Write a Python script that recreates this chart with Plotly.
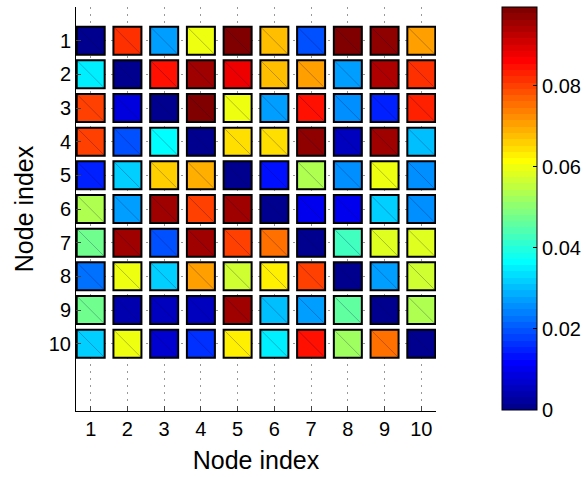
import plotly.graph_objects as go

# Node indices and tick labels
nodes = list(range(1, 11))
tick_labels = [str(n) for n in nodes]
cbar_ticks = [0, 0.02, 0.04, 0.06, 0.08]
cbar_labels = ["0", "0.02", "0.04", "0.06", "0.08"]
vmax = 0.0995

# Pairwise values between nodes (row = node on y, column = node on x)
row1 = [0.0, 0.0821, 0.0279, 0.0592, 0.0995, 0.0684, 0.0199, 0.0985, 0.0970, 0.0714]
row2 = [0.0343, 0.0, 0.0840, 0.0953, 0.0871, 0.0672, 0.0714, 0.0265, 0.0937, 0.0821]
row3 = [0.0804, 0.0092, 0.0, 0.0995, 0.0605, 0.0279, 0.0854, 0.0249, 0.0155, 0.0838]
row4 = [0.0804, 0.0191, 0.0358, 0.0, 0.0639, 0.0639, 0.0970, 0.0058, 0.0962, 0.0296]
row5 = [0.0141, 0.0323, 0.0655, 0.0689, 0.0, 0.0139, 0.0544, 0.0249, 0.0605, 0.0249]
row6 = [0.0544, 0.0265, 0.0953, 0.0804, 0.0953, 0.0, 0.0095, 0.0107, 0.0323, 0.0249]
row7 = [0.0467, 0.0953, 0.0191, 0.0953, 0.0804, 0.0761, 0.0, 0.0435, 0.0589, 0.0589]
row8 = [0.0218, 0.0605, 0.0323, 0.0704, 0.0572, 0.0627, 0.0793, 0.0, 0.0279, 0.0560]
row9 = [0.0467, 0.0042, 0.0058, 0.0058, 0.0953, 0.0296, 0.0265, 0.0451, 0.0, 0.0539]
row10 = [0.0311, 0.0605, 0.0075, 0.0157, 0.0622, 0.0343, 0.0854, 0.0527, 0.0761, 0.0]
rows = [row1, row2, row3, row4, row5, row6, row7, row8, row9, row10]


def jet64():
    """64-level jet colour table, built the same way as the classic colormap."""
    m, n = 64, 16
    u = [i / n for i in range(1, n + 1)] + [1.0] * (n - 1) + [i / n for i in range(n, 0, -1)]
    cols = [[0.0, 0.0, 0.0] for _ in range(m)]
    off = n // 2
    for k, val in enumerate(u, start=1):
        g = off + k
        r = g + n
        b = g - n
        if 1 <= r <= m:
            cols[r - 1][0] = val
        if 1 <= g <= m:
            cols[g - 1][1] = val
        if 1 <= b <= m:
            cols[b - 1][2] = val
    return cols


table = jet64()
colorscale = []
for i, (r, g, b) in enumerate(table):
    c = f"rgb({round(r * 255)},{round(g * 255)},{round(b * 255)})"
    colorscale.append([i / 64, c])
    colorscale.append([(i + 1) / 64, c])

xs, ys, vals = [], [], []
for j, row in zip(nodes, rows):
    for i, v in zip(nodes, row):
        xs.append(i)
        ys.append(j)
        vals.append(v)

font_family = "Liberation Sans, Arial, sans-serif"

fig = go.Figure()

# Coloured square per node pair
fig.add_trace(go.Scatter(
    x=xs, y=ys, mode="markers", hoverinfo="skip",
    marker=dict(
        symbol="square", size=28, color=vals, cmin=0, cmax=vmax,
        colorscale=colorscale,
        line=dict(color="black", width=2),
        colorbar=dict(
            x=1.184, xanchor="left", xref="paper", xpad=0,
            y=1.0, yanchor="top", ypad=0,
            lenmode="pixels", len=403, thickness=35,
            outlinecolor="black", outlinewidth=1,
            tickvals=cbar_ticks, ticktext=cbar_labels,
            ticks="inside", ticklen=4, tickcolor="black",
            tickfont=dict(family=font_family, size=20, color="black"),
        ),
    ),
    showlegend=False,
))

# Thin diagonal through each square
fig.add_trace(go.Scatter(
    x=xs, y=ys, mode="markers", hoverinfo="skip",
    marker=dict(symbol="line-nw", size=28, color="rgba(0,0,70,0.25)",
                line=dict(color="rgba(0,0,70,0.25)", width=1)),
    showlegend=False,
))

axis_common = dict(
    showline=True, linecolor="black", linewidth=1, mirror=False,
    ticks="inside", ticklen=5, tickcolor="#444",
    showgrid=True, gridcolor="#999", gridwidth=1, griddash="2px,5px",
    zeroline=False,
    tickfont=dict(family=font_family, size=20, color="black"),
    tickvals=nodes, ticktext=tick_labels,
)

fig.update_xaxes(
    range=[0.6, 10.4], **axis_common,
    title=dict(text="Node index", standoff=12,
               font=dict(family=font_family, size=25, color="black")),
)
fig.update_yaxes(
    range=[12, 0], **axis_common,
    title=dict(text="Node index", standoff=8,
               font=dict(family=font_family, size=25, color="black")),
)

fig.update_layout(
    width=586, height=477,
    margin=dict(l=76, r=150, t=7, b=66, autoexpand=False),
    plot_bgcolor="white", paper_bgcolor="white",
)

fig.write_html("out.html")
